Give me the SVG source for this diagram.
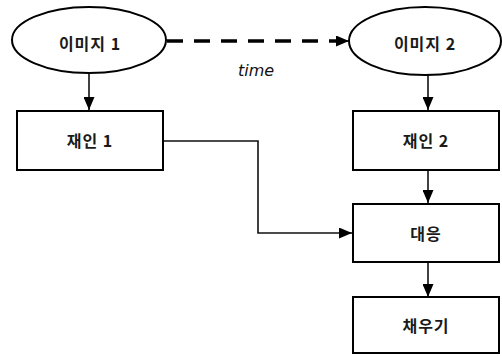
<svg xmlns="http://www.w3.org/2000/svg" width="502" height="356" viewBox="0 0 502 356">
  <style>
    .shape { fill: #ffffff; stroke: #000000; stroke-width: 2; }
    .label { font-family: "Noto Sans CJK KR", "Liberation Sans", sans-serif; font-size: 16px; font-weight: bold; letter-spacing: 1px; fill: #1a1a1a; text-anchor: middle; dominant-baseline: central; }
    .link { fill: none; stroke: #111111; stroke-width: 1.6; }
    .dash { fill: none; stroke: #000000; stroke-width: 3.5; stroke-dasharray: 16 11; }
    .note { font-family: "DejaVu Sans", "Liberation Sans", sans-serif; font-size: 16px; font-style: italic; fill: #111111; text-anchor: middle; }
  </style>
  <defs>
    <marker id="arrow" viewBox="0 0 13 11" refX="13" refY="5.5" markerWidth="13" markerHeight="11" markerUnits="userSpaceOnUse" orient="auto">
      <path d="M0,0 L13,5.5 L0,11 Z" fill="#000000"/>
    </marker>
  </defs>
  <rect width="502" height="356" fill="#ffffff"/>

  <g id="connectors">
    <path class="dash" d="M167,41 H338"/>
    <path class="link" d="M336,41 H349" stroke-width="3" marker-end="url(#arrow)"/>
    <path class="link" d="M89,74 V110" marker-end="url(#arrow)"/>
    <path class="link" d="M428,75 V110" marker-end="url(#arrow)"/>
    <path class="link" d="M164,141 H258 V233 H352" marker-end="url(#arrow)"/>
    <path class="link" d="M428,170 V203" marker-end="url(#arrow)"/>
    <path class="link" d="M428,263 V297" marker-end="url(#arrow)"/>
  </g>

  <text class="note" x="256" y="76">time</text>

  <g id="image1">
    <ellipse class="shape" cx="89" cy="40" rx="77" ry="33"/>
    <text class="label" x="90" y="43">이미지 1</text>
  </g>
  <g id="image2">
    <ellipse class="shape" cx="425" cy="41" rx="76" ry="34"/>
    <text class="label" x="425" y="43">이미지 2</text>
  </g>
  <g id="recog1">
    <rect class="shape" x="17" y="111" width="146" height="59"/>
    <text class="label" x="90" y="140">재인 1</text>
  </g>
  <g id="recog2">
    <rect class="shape" x="353" y="111" width="146" height="59"/>
    <text class="label" x="426" y="140">재인 2</text>
  </g>
  <g id="match">
    <rect class="shape" x="353" y="204" width="146" height="58"/>
    <text class="label" x="426" y="233">대응</text>
  </g>
  <g id="fill">
    <rect class="shape" x="353" y="297" width="146" height="56"/>
    <text class="label" x="426" y="325">채우기</text>
  </g>
</svg>
